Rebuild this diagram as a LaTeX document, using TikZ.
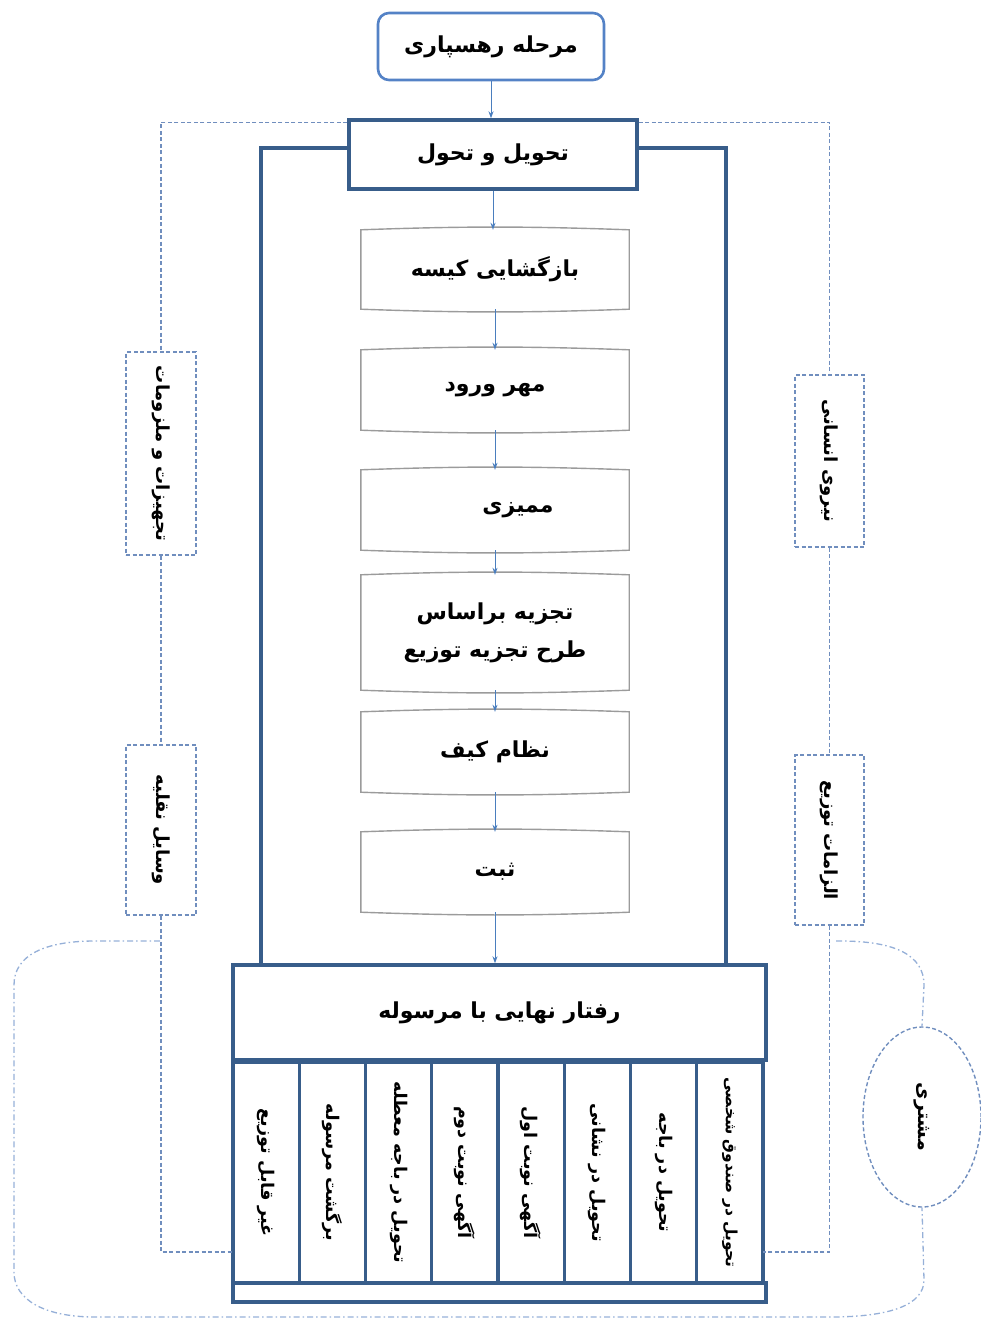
\documentclass[tikz,border=0pt]{standalone}
\usepackage{fontspec}
\usetikzlibrary{shapes.geometric,arrows.meta}
\TeXXeTstate=1
\newfontfamily\fafont[Script=Arabic]{DejaVu Sans}
\newcommand{\fa}[1]{{\fafont\bfseries\beginR #1\endR}}
\definecolor{dkblue}{RGB}{56,93,138}
\definecolor{ltblue}{RGB}{84,130,198}
\definecolor{arrblue}{RGB}{74,126,190}
\definecolor{dashblue}{RGB}{112,142,190}
\definecolor{ddblue}{RGB}{150,176,216}
\definecolor{stepgray}{RGB}{155,155,155}
\tikzset{
  txt/.style={font=\fontsize{22}{30}\selectfont},
  side/.style={font=\fontsize{18}{22}\selectfont},
  small/.style={font=\fontsize{17.5}{22}\selectfont},
  startbox/.style={draw=ltblue, line width=2.6pt, rounded corners=11pt, fill=white,
    minimum width=226pt, minimum height=67pt, inner sep=0pt, txt},
  frame/.style={draw=dkblue, line width=3.4pt, fill=white, inner sep=0pt},
  stepbox/.style={minimum width=268pt, inner sep=0pt, txt},
  stepline/.style={draw=stepgray, line width=1.4pt},
  flow/.style={draw=arrblue, line width=1pt, -{Stealth[length=7pt,width=5pt]}},
  column/.style={draw=dkblue, line width=3.4pt, minimum width=66.25pt, minimum height=221pt, inner sep=0pt},
  sidebox/.style={draw=dashblue, line width=1.4pt, dash pattern=on 4pt off 2.5pt, inner sep=0pt},
  sidedash/.style={draw=dashblue, line width=1.4pt, dash pattern=on 4pt off 2.5pt},
  dd/.style={draw=ddblue, line width=1.3pt, dash pattern=on 6pt off 3pt on 1.5pt off 3pt},
}
\begin{document}
\begin{tikzpicture}[x=1pt,y=-1pt]
\useasboundingbox (0,0) rectangle (981,1319);

% outer container of the processing chain
\node[frame, fill=none, minimum width=465pt, minimum height=817pt] (container) at (493.5,556.5) {};

% start and receiving stages
\node[startbox] (start) at (491,46.5) {\fa{مرحله رهسپاری}};
\node[frame, minimum width=288pt, minimum height=69pt, txt] (move) at (493,154.5) {\fa{تحویل و تحول}};

% processing steps
\node[stepbox, minimum height=79pt] (b1) at (495,269.5) {\fa{بازگشایی کیسه}};
\node[stepbox, minimum height=80pt] (b2) at (495,390) {\fa{مهر ورود}};
\node[stepbox, minimum height=80pt] (b3) at (495,510) {\hspace*{46pt}\fa{ممیزی}};
\node[stepbox, minimum height=115pt, align=center, font=\fontsize{22}{38}\selectfont] (b4) at (495,632.5)
  {\fa{تجزیه براساس}\\\fa{طرح تجزیه توزیع}};
\node[stepbox, minimum height=80pt] (b5) at (495,752) {\fa{نظام کیف}};
\node[stepbox, minimum height=80pt] (b6) at (495,872) {\fa{ثبت}};
\foreach \n in {b1,b2,b3,b4,b5,b6}{
  \draw[stepline] (\n.north west) to[bend left=2] (\n.north east) -- (\n.south east)
    to[bend left=2] (\n.south west) -- cycle;
}

% final handling of the item
\node[frame, minimum width=533pt, minimum height=95pt, txt] (final) at (499.5,1012.5) {\fa{رفتار نهایی با مرسوله}};
\foreach \i/\t in {0/غیر قابل توزیع,1/برگشت مرسوله,2/تحویل در باجه معطله,3/آگهی نوبت دوم,
                   4/آگهی نوبت اول,5/تحویل در نشانی,6/تحویل در باجه}{
  \node[column] (c\i) at ({266.125+66.25*\i},1172.5) {};
  \node[rotate=-90, small] at (c\i) {\fa{\t}};
}
\node[column] (c7) at ({266.125+66.25*7},1172.5) {};
\node[rotate=-90, font=\fontsize{15.5}{20}\selectfont] at (c7) {\fa{تحویل در صندوق شخصی}};
\node[frame, minimum width=533pt, minimum height=19pt] (strip) at (499.5,1292.5) {};

% flow arrows
\draw[flow] (start.south) -- (start.south |- move.north);
\draw[flow] (move.south) -- (move.south |- b1.north);
\draw[flow] (b1.south) -- (b2.north);
\draw[flow] (b2.south) -- (b3.north);
\draw[flow] (b3.south) -- (b4.north);
\draw[flow] (b4.south) -- (b5.north);
\draw[flow] (b5.south) -- (b6.north);
\draw[flow] (b6.south) -- (b6.south |- final.north);

% resources on the two sides
\node[sidebox, minimum width=70pt, minimum height=203pt] (eq) at (161,453.5) {};
\node[rotate=-90, side] at (eq) {\fa{تجهیزات و ملزومات}};
\node[sidebox, minimum width=70pt, minimum height=170pt] (veh) at (161,830) {};
\node[rotate=-90, side] at (veh) {\fa{وسایل نقلیه}};
\node[sidebox, minimum width=69pt, minimum height=172pt] (hr) at (829.5,461) {};
\node[rotate=-90, side] at (hr) {\fa{نیروی انسانی}};
\node[sidebox, minimum width=69pt, minimum height=170pt] (req) at (829.5,840) {};
\node[rotate=-90, side] at (req) {\fa{الزامات توزیع}};

\coordinate (lb) at (233,1252);
\coordinate (rb) at (763,1252);
\draw[sidedash] ([yshift=-4pt]move.north west) -| (eq.north);
\draw[sidedash] (eq.south) -- (veh.north);
\draw[sidedash] (veh.south) |- (lb);
\draw[sidedash] ([yshift=-4pt]move.north east) -| (hr.north);
\draw[sidedash] (hr.south) -- (req.north);
\draw[sidedash] (req.south) |- (rb);

% customer
\node[ellipse, draw=dashblue, line width=1.4pt, dash pattern=on 4pt off 2.5pt,
      minimum width=118pt, minimum height=180pt, inner sep=0pt] (cust) at (922,1117) {};
\node[rotate=-90, font=\fontsize{19}{24}\selectfont] at (cust) {\fa{مشتری}};

\coordinate (lt) at (160,941);
\coordinate (rt) at (836,941);
\draw[dd] (lt) -- (95,941) .. controls (45,941) and (14,955) .. (14,985) -- (14,1272)
  .. controls (14,1300) and (45,1317) .. (95,1317) -- (830,1317)
  .. controls (890,1317) and (924,1305) .. (924,1280) -- (cust.south);
\draw[dd] (rt) -- (840,941) .. controls (895,941) and (924,955) .. (924,985) -- (cust.north);
\end{tikzpicture}
\end{document}
